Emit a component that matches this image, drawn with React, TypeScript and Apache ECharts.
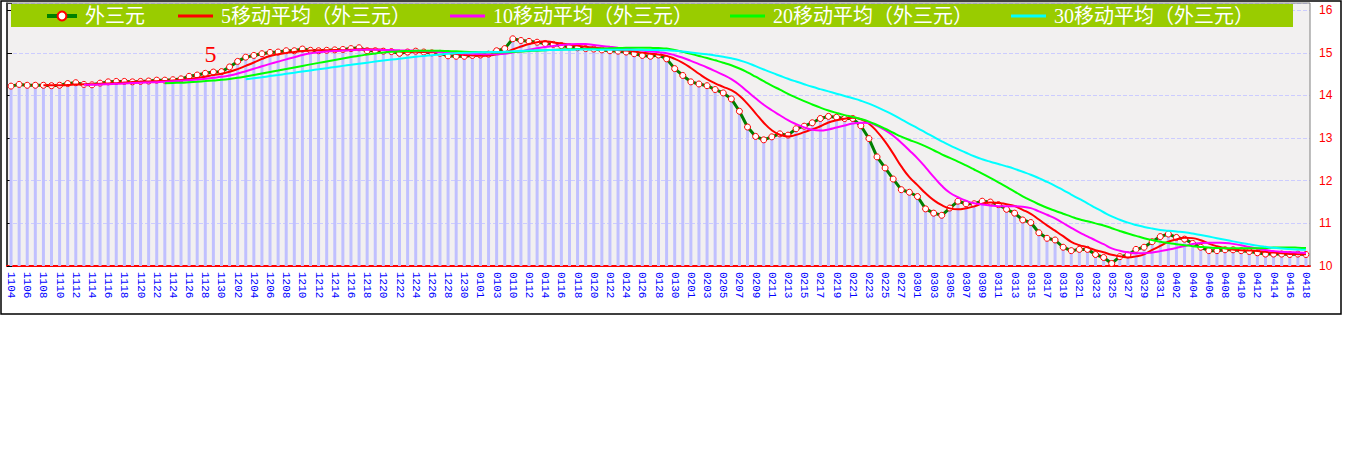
import React, { useEffect, useRef } from 'react';
import * as echarts from 'echarts';

const categories: string[] = [
  '1104','1105','1106','1107','1108','1109','1110','1111','1112','1113','1114','1115','1116','1117','1118','1119','1120','1121','1122','1123','1124','1125','1126','1127','1128','1129','1130',
  '1201','1202','1203','1204','1205','1206','1207','1208','1209','1210','1211','1212','1213','1214','1215','1216','1217','1218','1219','1220','1221','1222','1223','1224','1225','1226','1227','1228','1229','1230','1231',
  '0101','0102','0103','0109','0110','0111','0112','0113','0114','0115','0116','0117','0118','0119','0120','0121','0122','0123','0124','0125','0126','0127','0128','0129','0130','0131',
  '0201','0202','0203','0204','0205','0206','0207','0208','0209','0210','0211','0212','0213','0214','0215','0216','0217','0218','0219','0220','0221','0222','0223','0224','0225','0226','0227','0228',
  '0301','0302','0303','0304','0305','0306','0307','0308','0309','0310','0311','0312','0313','0314','0315','0316','0317','0318','0319','0320','0321','0322','0323','0324','0325','0326','0327','0328','0329','0330','0331',
  '0401','0402','0403','0404','0405','0406','0407','0408','0409','0410','0411','0412','0413','0414','0415','0416','0417','0418',
];

// 外三元 daily values
const values: number[] = [
  14.22, 14.26, 14.24, 14.24, 14.24, 14.23, 14.24, 14.28, 14.30, 14.26,
  14.25, 14.29, 14.32, 14.33, 14.33, 14.32, 14.33, 14.34, 14.36, 14.36,
  14.37, 14.39, 14.45, 14.48, 14.52, 14.55, 14.56, 14.67, 14.80, 14.90,
  14.94, 14.98, 15.01, 15.02, 15.05, 15.05, 15.09, 15.06, 15.05, 15.06,
  15.07, 15.08, 15.10, 15.12, 15.05, 15.05, 15.04, 15.03, 14.99, 15.02,
  15.04, 15.02, 15.00, 14.99, 14.93, 14.92, 14.92, 14.94, 14.95, 14.97,
  15.05, 15.10, 15.33, 15.29, 15.27, 15.25, 15.22, 15.20, 15.17, 15.14,
  15.12, 15.10, 15.09, 15.07, 15.05, 15.04, 15.02, 14.98, 14.94, 14.92,
  14.95, 14.86, 14.63, 14.47, 14.32, 14.27, 14.23, 14.14, 14.06, 13.92,
  13.63, 13.26, 13.04, 12.96, 13.03, 13.10, 13.07, 13.22, 13.28, 13.36,
  13.46, 13.51, 13.49, 13.46, 13.46, 13.29, 12.99, 12.56, 12.30, 12.04,
  11.79, 11.73, 11.63, 11.34, 11.24, 11.19, 11.36, 11.52, 11.46, 11.46,
  11.52, 11.50, 11.44, 11.33, 11.24, 11.08, 11.02, 10.78, 10.65, 10.61,
  10.44, 10.36, 10.39, 10.39, 10.27, 10.20, 10.06, 10.22, 10.26, 10.39,
  10.44, 10.57, 10.69, 10.75, 10.67, 10.63, 10.53, 10.44, 10.36, 10.36,
  10.38, 10.38, 10.36, 10.34, 10.31, 10.28, 10.28, 10.28, 10.27, 10.28,
  10.27,
];

const seriesNames: string[] = [
  '外三元',
  '5移动平均（外三元）',
  '10移动平均（外三元）',
  '20移动平均（外三元）',
  '30移动平均（外三元）',
];
const maPeriods: number[] = [5, 10, 20, 30];
const maColors: string[] = ['#ff0000', '#ff00ff', '#00ff00', '#00ffff'];

const yMin = 10;
const yMax = 16.17;

const legendLefts = [45, 178, 450, 730, 1011];

function movingAverage(src: number[], n: number): (number | string)[] {
  return src.map((_, i) => {
    if (i < n - 1) return '-';
    let s = 0;
    for (let k = i - n + 1; k <= i; k++) s += src[k];
    return +(s / n).toFixed(3);
  });
}

const serifFont = "'Liberation Serif', 'DejaVu Serif', 'Noto Sans CJK SC', serif";

export default function App() {
  const ref = useRef<HTMLDivElement>(null);
  useEffect(() => {
    if (!ref.current) return;
    const chart = echarts.init(ref.current, undefined, { renderer: 'svg' });

    const maSeries = maPeriods.map((p, k) => ({
      type: 'line',
      name: seriesNames[k + 1],
      data: movingAverage(values, p),
      smooth: true,
      symbol: 'none',
      showSymbol: false,
      lineStyle: { color: maColors[k], width: 2 },
      itemStyle: { color: maColors[k] },
      z: 3,
    }));

    const option: any = {
      animation: false,
      backgroundColor: '#ffffff',
      grid: {
        left: 7,
        top: 3,
        width: 1303,
        height: 263,
        show: true,
        backgroundColor: '#f2f0f0',
        borderWidth: 0,
      },
      legend: seriesNames.map((name, k) => ({
        data: k === 0 ? [name] : [{ name, icon: 'rect', itemStyle: { color: maColors[k - 1] } }],
        left: legendLefts[k],
        top: 6,
        padding: 0,
        itemWidth: k === 0 ? 30 : 35,
        itemHeight: k === 0 ? 11 : 3,
        itemGap: 0,
        selectedMode: false,
        z: 10,
        lineStyle: k === 0 ? { width: 4 } : undefined,
        textStyle: { color: '#ffffff', fontSize: 20, fontFamily: serifFont, padding: [0, 0, 0, 3] },
      })),
      xAxis: {
        type: 'category',
        data: categories,
        boundaryGap: true,
        axisLine: { lineStyle: { color: '#ff0000', width: 2 } },
        axisTick: {
          inside: true,
          length: 4,
          interval: 1,
          alignWithLabel: true,
          lineStyle: { color: '#ff0000', width: 1 },
        },
        axisLabel: {
          interval: 1,
          rotate: -90,
          color: '#0000ff',
          fontFamily: "'Liberation Mono', monospace",
          fontSize: 11,
          margin: 6,
        },
        splitLine: { show: false },
      },
      yAxis: [
        {
          type: 'value',
          position: 'right',
          min: yMin,
          max: yMax,
          interval: 1,
          axisLine: { show: false },
          axisTick: { show: false },
          axisLabel: {
            color: '#ff0000',
            fontSize: 12,
            fontFamily: "'Liberation Sans', sans-serif",
            margin: 9,
            showMaxLabel: false,
          },
          splitLine: { show: true, lineStyle: { color: '#ccccff', type: [4, 2], width: 1 } },
        },
        {
          type: 'value',
          position: 'left',
          min: yMin,
          max: yMax,
          interval: 1,
          axisLine: { show: true, lineStyle: { color: '#000000', width: 1.5 } },
          axisTick: { show: true, inside: true, length: 5, lineStyle: { color: '#000000' } },
          axisLabel: { show: false },
          splitLine: { show: false },
        },
      ],
      graphic: [
        {
          type: 'rect',
          shape: { x: 11, y: 4, width: 1282, height: 23 },
          style: { fill: '#99cc00' },
          z: 5,
          silent: true,
        },
        {
          type: 'text',
          x: 210.5,
          y: 53.5,
          style: {
            text: '5',
            fill: '#ff0000',
            fontSize: 24,
            fontFamily: serifFont,
            align: 'center',
            verticalAlign: 'middle',
          },
          z: 6,
        },
        {
          type: 'line',
          shape: { x1: 7, y1: 3, x2: 1310, y2: 3 },
          style: { stroke: '#808080', lineWidth: 1 },
          z: 20,
        },
        {
          type: 'line',
          shape: { x1: 1310, y1: 3, x2: 1310, y2: 266 },
          style: { stroke: '#808080', lineWidth: 1 },
          z: 20,
        },
        {
          type: 'rect',
          shape: { x: 1, y: 1, width: 1340, height: 313 },
          style: { fill: 'none', stroke: '#000000', lineWidth: 1.5 },
          z: 20,
          silent: true,
        },
      ],
      series: [
        {
          type: 'bar',
          name: 'bar',
          data: values,
          barWidth: 3,
          itemStyle: { color: '#c0c0ff' },
          silent: true,
          z: 1,
        },
        {
          type: 'line',
          name: seriesNames[0],
          data: values,
          symbol: 'circle',
          symbolSize: 6,
          showSymbol: true,
          showAllSymbol: true,
          lineStyle: { color: '#008000', width: 3 },
          itemStyle: { color: '#ffffff', borderColor: '#ff0000', borderWidth: 1 },
          z: 2,
        },
        ...maSeries,
      ],
    };

    chart.setOption(option);
    return () => chart.dispose();
  }, []);

  return (
    <div
      ref={ref}
      style={{ position: 'absolute', left: 0, top: 0, width: 1360, height: 460 }}
    />
  );
}
